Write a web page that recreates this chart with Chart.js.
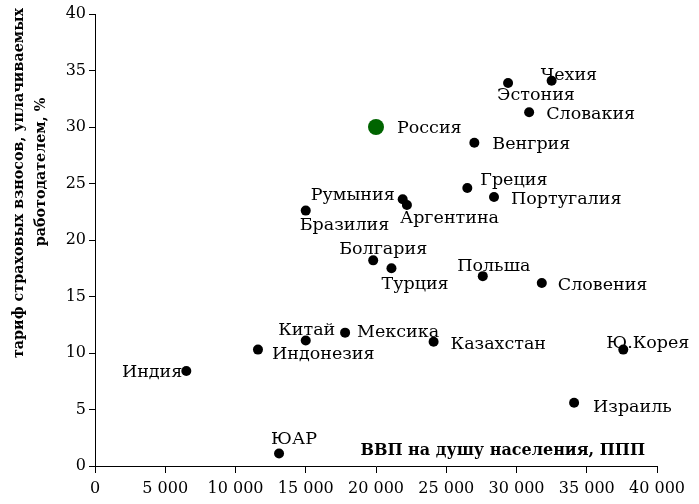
<!DOCTYPE html>
<html>
<head>
<meta charset="utf-8">
<script src="https://cdn.jsdelivr.net/npm/chart.js@4"></script>
<style>
  html, body { margin: 0; padding: 0; background: #fff; }
  #wrap { width: 699px; height: 504px; }
</style>
</head>
<body>
<div id="wrap"><canvas id="chart"></canvas></div>
<script>
// countries and their values
const countries = ['Чехия', 'Эстония', 'Словакия', 'Россия', 'Венгрия', 'Греция', 'Португалия',
    'Румыния', 'Аргентина', 'Бразилия', 'Болгария', 'Турция', 'Польша', 'Словения',
    'Китай', 'Мексика', 'Индонезия', 'Казахстан', 'Ю.Корея', 'Индия', 'Израиль', 'ЮАР'];
const gdpPerCapita = [32500, 29400, 30900, 20000, 27000, 26500, 28400,
    21900, 22200, 15000, 19800, 21100, 27600, 31800,
    15000, 17800, 11600, 24100, 37600, 6500, 34100, 13100];
const contributionRate = [34.1, 33.9, 31.3, 30.0, 28.6, 24.6, 23.8,
    23.6, 23.1, 22.6, 18.2, 17.5, 16.8, 16.2,
    11.1, 11.8, 10.3, 11.0, 10.3, 8.4, 5.6, 1.1];
const highlight = 'Россия';

const xTicks = [0, 5000, 10000, 15000, 20000, 25000, 30000, 35000, 40000];
const yTicks = [0, 5, 10, 15, 20, 25, 30, 35, 40];
const xTitle = 'ВВП на душу населения, ППП';
const yTitle = ['тариф страховых взносов, уплачиваемых', 'работодателем, %'];

// label placement next to each dot: [align, dx, dy]
const labelPos = {
    'Чехия': ['left', -11, -5], 'Эстония': ['left', -11, 13], 'Словакия': ['left', 17, 2],
    'Россия': ['left', 21, 1], 'Венгрия': ['left', 18, 2], 'Греция': ['left', 13, -8],
    'Португалия': ['left', 17, 2], 'Румыния': ['right', -8, -4], 'Аргентина': ['left', -7, 13],
    'Бразилия': ['left', -6, 15], 'Болгария': ['center', 10, -11], 'Турция': ['left', -10, 16],
    'Польша': ['center', 11, -10], 'Словения': ['left', 16, 3], 'Китай': ['center', 1, -10],
    'Мексика': ['left', 12, 0], 'Индонезия': ['left', 14, 5], 'Казахстан': ['left', 17, 3],
    'Ю.Корея': ['left', -17, -6], 'Индия': ['right', -4, 1], 'Израиль': ['left', 19, 5],
    'ЮАР': ['center', 15, -14]
};

const serif = '"DejaVu Serif", serif';
const fmt = v => String(v).replace(/\B(?=(\d{3})+(?!\d))/g, ' ');

const pointLabels = {
    id: 'pointLabels',
    beforeDatasetsDraw(chart) {
        const ctx = chart.ctx;
        const meta = chart.getDatasetMeta(0);
        ctx.save();
        ctx.font = '17.5px ' + serif;
        ctx.fillStyle = '#000';
        ctx.textBaseline = 'middle';
        meta.data.forEach((pt, i) => {
            const p = labelPos[countries[i]];
            ctx.textAlign = p[0];
            ctx.fillText(countries[i], pt.x + p[1], pt.y + p[2]);
        });
        // x axis title sits inside the plot, bottom right
        ctx.font = 'bold 16px ' + serif;
        ctx.textAlign = 'right';
        ctx.fillText(xTitle, chart.chartArea.right - 12, chart.chartArea.bottom - 15);

        // y axis title, rotated, sits in the upper part of the left margin
        ctx.font = 'bold 14.3px ' + serif;
        ctx.textAlign = 'center';
        ctx.translate(0, 0);
        [[19, 183], [41, 172]].forEach((c, i) => {
            ctx.save();
            ctx.translate(c[0], c[1]);
            ctx.rotate(-Math.PI / 2);
            ctx.fillText(yTitle[i], 0, 0);
            ctx.restore();
        });
        ctx.restore();
    }
};

new Chart(document.getElementById('chart'), {
    type: 'scatter',
    data: {
        datasets: [{
            data: gdpPerCapita.map((x, i) => ({ x: x, y: contributionRate[i] })),
            pointBackgroundColor: countries.map(c => c === highlight ? '#006400' : '#000'),
            pointBorderWidth: 0,
            pointRadius: countries.map(c => c === highlight ? 8 : 5),
            pointHoverRadius: countries.map(c => c === highlight ? 8 : 5)
        }]
    },
    options: {
        responsive: true,
        maintainAspectRatio: false,
        animation: false,
        events: [],
        layout: { padding: { top: 14, right: 42, left: 0, bottom: 0 } },
        plugins: { legend: { display: false }, tooltip: { enabled: false } },
        scales: {
            x: {
                type: 'linear', min: 0, max: 40000,
                afterBuildTicks: s => { s.ticks = xTicks.map(v => ({ value: v })); },
                afterFit: s => { s.height = 38; },
                grid: { drawOnChartArea: false, drawTicks: true, tickLength: 7, color: '#000' },
                border: { color: '#000', width: 1 },
                ticks: { color: '#000', padding: 6, maxRotation: 0, font: { family: serif, size: 16 }, callback: v => fmt(v) }
            },
            y: {
                type: 'linear', min: 0, max: 40,
                afterBuildTicks: s => { s.ticks = yTicks.map(v => ({ value: v })); },
                afterFit: s => { s.width = 95; },
                grid: { drawOnChartArea: false, drawTicks: true, tickLength: 6, color: '#000' },
                border: { color: '#000', width: 1 },
                ticks: { color: '#000', padding: 3, font: { family: serif, size: 16 } }
            }
        }
    },
    plugins: [pointLabels]
});
</script>
</body>
</html>
